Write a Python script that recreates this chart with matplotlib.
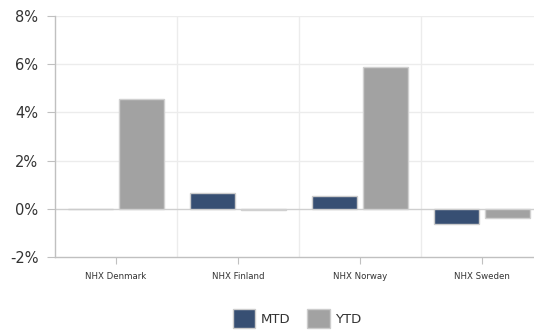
import numpy as np
import matplotlib.pyplot as plt
from matplotlib.patches import Patch

categories = ["NHX Denmark", "NHX Finland", "NHX Norway", "NHX Sweden"]
mtd = [0.0, 0.65, 0.55, -0.64]
ytd = [4.56, -0.05, 5.9, -0.39]

mtd_color = "#374f73"
ytd_color = "#a2a2a2"

fig = plt.figure(figsize=(5.34, 3.31), dpi=100)
ax = fig.add_axes([55 / 534, 74 / 331, 488 / 534, 241 / 331])

x = np.arange(len(categories))
w = 0.375
ax.bar(x - 0.21, mtd, w, color=mtd_color, edgecolor="#cccccc", linewidth=1, zorder=3)
ax.bar(x + 0.21, ytd, w, color=ytd_color, edgecolor="#d0d0d0", linewidth=1, zorder=3)

ax.set_xlim(-0.5, len(categories) - 0.5)
ax.set_ylim(-2, 8)
ax.set_yticks([-2, 0, 2, 4, 6, 8])
ax.set_yticklabels(["-2%", "0%", "2%", "4%", "6%", "8%"])
ax.set_xticks(x)
ax.set_xticklabels(categories)

# grid
for yv in [2, 4, 6, 8]:
    ax.axhline(yv, color="#ececec", linewidth=1, zorder=0)
ax.axhline(0, color="#cfcfcf", linewidth=1, zorder=2)
for xv in [0.5, 1.5, 2.5]:
    ax.axvline(xv, color="#ececec", linewidth=1, zorder=0)

for s in ["top", "right"]:
    ax.spines[s].set_visible(False)
for s in ["left", "bottom"]:
    ax.spines[s].set_color("#c0c0c0")
    ax.spines[s].set_linewidth(1)

ax.tick_params(axis="x", length=5, color="#c0c0c0", labelsize=6.2,
               labelcolor="#333333", pad=6)
ax.tick_params(axis="y", length=6, color="#c0c0c0", labelsize=10.5,
               labelcolor="#333333", pad=6)

handles = [Patch(facecolor=mtd_color, edgecolor="#cccccc", label="MTD"),
           Patch(facecolor=ytd_color, edgecolor="#cccccc", label="YTD")]
fig.legend(handles=handles, loc="center", bbox_to_anchor=(297 / 534, 12.5 / 331),
           ncol=2, frameon=False, fontsize=9.5, handlelength=1.7, handleheight=1.9,
           handletextpad=0.38, columnspacing=1.3, labelcolor="#333333",
           borderpad=0, borderaxespad=0)

fig.savefig("out.png", dpi=100)
